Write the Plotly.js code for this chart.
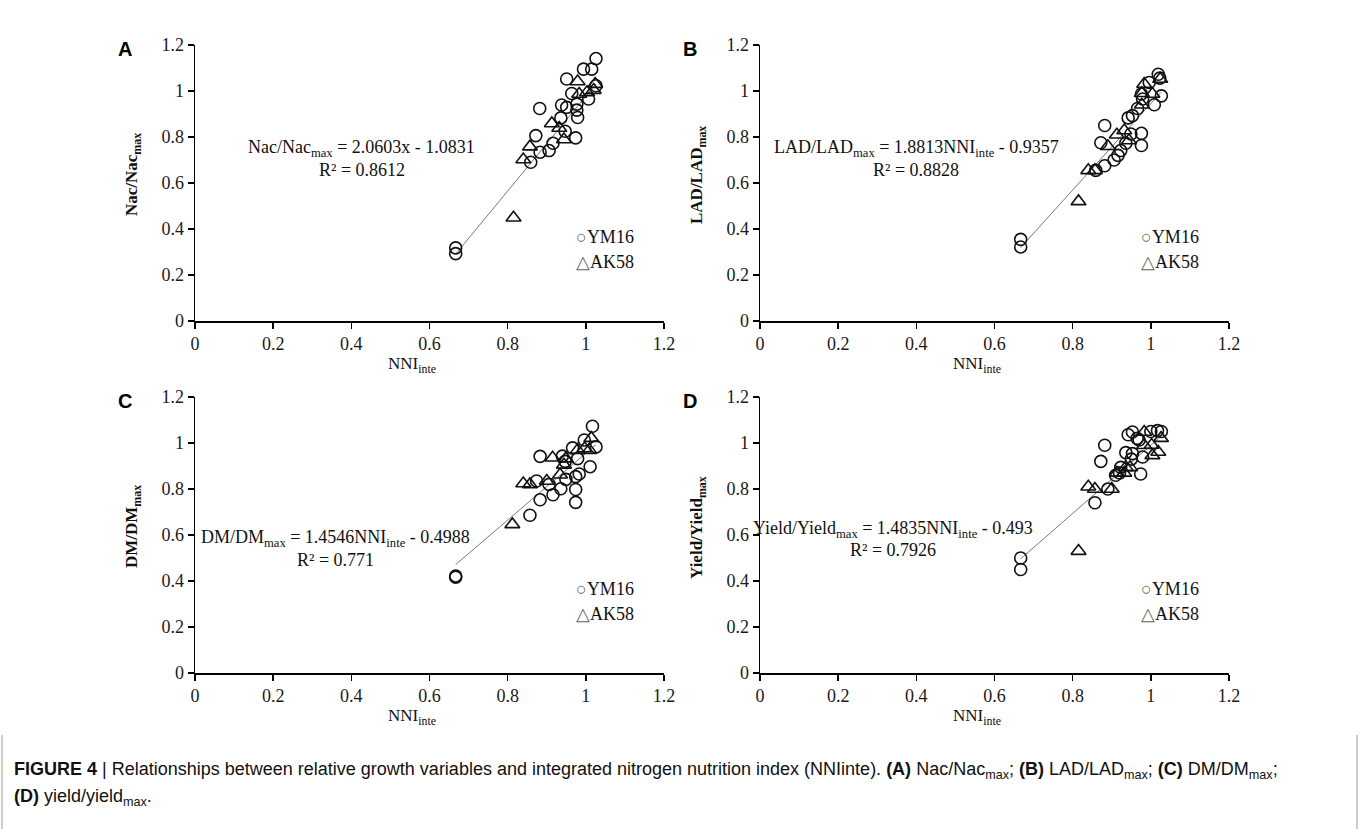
<!DOCTYPE html>
<html>
<head>
<meta charset="utf-8">
<script src="https://cdn.plot.ly/plotly-3.0.1.min.js"></script>
<style>html,body{margin:0;padding:0;background:#fff;}#chart{width:1360px;height:829px;}</style>
</head>
<body>
<div id="chart"></div>
<script>
// ---------- data ----------
const tickVals = [0, 0.2, 0.4, 0.6, 0.8, 1, 1.2];
const tickText = ['0', '0.2', '0.4', '0.6', '0.8', '1', '1.2'];

// Panel A: Nac/Nac_max
const A_ym_x = [0.667,0.667,0.859,0.872,0.882,0.883,0.906,0.916,0.936,0.938,0.947,0.951,0.951,0.964,0.974,0.977,0.977,0.979,0.994,1.007,1.015,1.026,1.026];
const A_ym_y = [0.318,0.293,0.690,0.806,0.924,0.734,0.741,0.773,0.883,0.939,0.825,1.052,0.929,0.989,0.796,0.943,0.917,0.885,1.095,0.965,1.095,1.141,1.023];
const A_ak_x = [0.815,0.840,0.857,0.913,0.932,0.944,0.979,0.983,1.003,1.020,1.024];
const A_ak_y = [0.449,0.702,0.758,0.859,0.839,0.789,1.041,0.987,0.994,1.004,1.030];

// Panel B: LAD/LAD_max
const B_ym_x = [0.667,0.667,0.859,0.872,0.882,0.882,0.906,0.916,0.923,0.936,0.942,0.949,0.953,0.966,0.976,0.976,0.976,0.979,0.996,1.009,1.019,1.023,1.027];
const B_ym_y = [0.355,0.322,0.655,0.775,0.850,0.675,0.700,0.720,0.741,0.773,0.883,0.813,0.893,0.924,0.763,0.816,0.987,0.965,1.037,0.940,1.073,1.056,0.979];
const B_ak_x = [0.815,0.840,0.857,0.890,0.913,0.932,0.944,0.977,0.977,0.983,1.004,1.024];
const B_ak_y = [0.520,0.655,0.655,0.760,0.810,0.828,0.785,0.940,0.990,1.030,0.987,1.052];

// Panel C: DM/DM_max
const C_ym_x = [0.667,0.667,0.857,0.874,0.883,0.883,0.906,0.916,0.936,0.940,0.947,0.949,0.966,0.974,0.974,0.974,0.979,0.983,0.996,1.011,1.017,1.026];
const C_ym_y = [0.422,0.417,0.686,0.835,0.942,0.753,0.820,0.775,0.801,0.943,0.920,0.842,0.979,0.854,0.798,0.742,0.932,0.865,1.013,0.897,1.073,0.983];
const C_ak_x = [0.812,0.840,0.857,0.900,0.915,0.934,0.944,0.949,0.979,0.997,1.009,1.014];
const C_ak_y = [0.646,0.824,0.820,0.835,0.936,0.862,0.905,0.932,0.969,0.976,0.969,1.021];

// Panel D: Yield/Yield_max
const D_ym_x = [0.667,0.667,0.857,0.872,0.882,0.890,0.910,0.920,0.923,0.936,0.942,0.950,0.953,0.953,0.965,0.970,0.974,0.979,1.000,1.017,1.027];
const D_ym_y = [0.500,0.450,0.740,0.920,0.990,0.800,0.860,0.870,0.894,0.958,1.036,0.930,1.048,0.954,1.020,1.013,0.865,0.939,1.050,1.054,1.050];
const D_ak_x = [0.815,0.840,0.857,0.900,0.913,0.932,0.936,0.947,0.983,0.983,1.002,1.004,1.019,1.026];
const D_ak_y = [0.530,0.810,0.800,0.800,0.870,0.870,0.894,0.894,1.048,0.990,0.991,0.946,0.961,1.021];

// regression lines (from the printed equations)
const slopes = [2.0603, 1.8813, 1.4546, 1.4835];
const intercepts = [-1.0831, -0.9357, -0.4988, -0.493];
const fitRange = [0.667, 1.026];

const panelLetters = ['A', 'B', 'C', 'D'];
const yTitles = ['Nac/Nac<sub>max</sub>', 'LAD/LAD<sub>max</sub>', 'DM/DM<sub>max</sub>', 'Yield/Yield<sub>max</sub>'];
const eqTexts = [
  'Nac/Nac<sub>max</sub> = 2.0603x - 1.0831',
  'LAD/LAD<sub>max</sub> = 1.8813NNI<sub>inte</sub> - 0.9357',
  'DM/DM<sub>max</sub> = 1.4546NNI<sub>inte</sub> - 0.4988',
  'Yield/Yield<sub>max</sub> = 1.4835NNI<sub>inte</sub> - 0.493'
];
const r2Texts = ['R² = 0.8612', 'R² = 0.8828', 'R² = 0.771', 'R² = 0.7926'];
const seriesNames = ['YM16', 'AK58'];
const xTitle = 'NNI<sub>inte</sub>';

// ---------- layout helpers ----------
const W = 1360, H = 829;
const px = v => v / W;
const py = v => 1 - v / H;
const SERIF = 'Liberation Serif, Times New Roman, serif';
const SANS = 'Liberation Sans, Arial, sans-serif';

// plot-area pixel boxes [left, right, top, bottom]
const boxes = [
  [195, 664, 45, 321],
  [760, 1229, 45, 321],
  [195, 664, 397, 673],
  [760, 1229, 397, 673]
];

const ymData = [[A_ym_x, A_ym_y], [B_ym_x, B_ym_y], [C_ym_x, C_ym_y], [D_ym_x, D_ym_y]];
const akData = [[A_ak_x, A_ak_y], [B_ak_x, B_ak_y], [C_ak_x, C_ak_y], [D_ak_x, D_ak_y]];

const traces = [];
const layout = {
  width: W, height: H,
  margin: {l: 0, r: 0, t: 0, b: 0},
  paper_bgcolor: '#fff', plot_bgcolor: 'rgba(0,0,0,0)',
  showlegend: false,
  annotations: [],
  shapes: []
};

for (let i = 0; i < 4; i++) {
  const sfx = i === 0 ? '' : String(i + 1);
  const xa = 'x' + sfx, ya = 'y' + sfx;
  const [l, r, t, b] = boxes[i];
  const axCommon = {
    range: [0, 1.2], tickvals: tickVals, ticktext: tickText,
    showgrid: false, zeroline: false, showline: true,
    linecolor: '#000', linewidth: 1.5,
    ticks: 'outside', ticklen: 6, tickwidth: 1.5, tickcolor: '#000',
    tickfont: {family: SERIF, size: 18, color: '#1a1a1a'},
    fixedrange: true
  };
  layout['xaxis' + sfx] = Object.assign({}, axCommon, {domain: [px(l), px(r)], anchor: ya});
  layout['yaxis' + sfx] = Object.assign({}, axCommon, {domain: [py(b), py(t)], anchor: xa});

  // regression line
  traces.push({
    x: fitRange, y: fitRange.map(v => slopes[i] * v + intercepts[i]),
    xaxis: xa, yaxis: ya, mode: 'lines', hoverinfo: 'skip',
    line: {color: '#7a7a7a', width: 1}
  });
  // YM16 circles
  traces.push({
    x: ymData[i][0], y: ymData[i][1], xaxis: xa, yaxis: ya, mode: 'markers', name: seriesNames[0],
    marker: {symbol: 'circle-open', size: 12, color: '#111', line: {width: 1.6, color: '#111'}}
  });
  // AK58 triangles
  traces.push({
    x: akData[i][0], y: akData[i][1], xaxis: xa, yaxis: ya, mode: 'markers', name: seriesNames[1],
    marker: {symbol: 'triangle-up-open', size: 13, color: '#111', line: {width: 1.6, color: '#111'}}
  });

  const midY = (t + b) / 2;
  // panel letter
  layout.annotations.push({
    xref: 'paper', yref: 'paper', x: px(l - 70), y: py(t + 4), xanchor: 'center', yanchor: 'middle',
    text: '<b>' + panelLetters[i] + '</b>', showarrow: false,
    font: {family: SANS, size: 20, color: '#000'}
  });
  // y-axis title
  layout.annotations.push({
    xref: 'paper', yref: 'paper', x: px(l - 62), y: py(midY - 8), xanchor: 'center', yanchor: 'middle',
    text: '<b>' + yTitles[i] + '</b>', textangle: -90, showarrow: false,
    font: {family: SERIF, size: 17, color: '#111'}
  });
  // x-axis title
  layout.annotations.push({
    xref: 'paper', yref: 'paper', x: px(l + 217), y: py(b + 44), xanchor: 'center', yanchor: 'middle',
    text: xTitle, showarrow: false,
    font: {family: SERIF, size: 17, color: '#111'}
  });
  // equation + R²
  const eqX = [0.426, 0.40, 0.36, 0.34][i];
  const eqY = [0.75, 0.75, 0.585, 0.625][i];
  const r2Y = [0.655, 0.655, 0.49, 0.536][i];
  layout.annotations.push({
    xref: xa, yref: ya, x: eqX, y: eqY, xanchor: 'center', yanchor: 'middle',
    text: eqTexts[i], showarrow: false, font: {family: SERIF, size: 18, color: '#111'}
  });
  layout.annotations.push({
    xref: xa, yref: ya, x: eqX, y: r2Y, xanchor: 'center', yanchor: 'middle',
    text: r2Texts[i], showarrow: false, font: {family: SERIF, size: 18, color: '#111'}
  });
  // legend (text glyph symbols)
  layout.annotations.push({
    xref: xa, yref: ya, x: 0.97, y: 0.365, xanchor: 'left', yanchor: 'middle',
    text: '<span style="color:#666">○</span>' + seriesNames[0], showarrow: false,
    font: {family: SERIF, size: 18, color: '#111'}
  });
  layout.annotations.push({
    xref: xa, yref: ya, x: 0.97, y: 0.258, xanchor: 'left', yanchor: 'middle',
    text: '<span style="color:#666">△</span>' + seriesNames[1], showarrow: false,
    font: {family: SERIF, size: 18, color: '#111'}
  });
}

// caption
const CAP = 'Liberation Sans Narrow, Arial Narrow, Liberation Sans, Arial, sans-serif';
layout.annotations.push({
  xref: 'paper', yref: 'paper', x: px(12), y: py(770), xanchor: 'left', yanchor: 'middle',
  text: '<b>FIGURE 4</b> | Relationships between relative growth variables and integrated nitrogen nutrition index (NNIinte). <b>(A)</b> Nac/Nac<sub>max</sub>; <b>(B)</b> LAD/LAD<sub>max</sub>; <b>(C)</b> DM/DM<sub>max</sub>;',
  showarrow: false, align: 'left', font: {family: CAP, size: 18, color: '#111'}
});
layout.annotations.push({
  xref: 'paper', yref: 'paper', x: px(12), y: py(797), xanchor: 'left', yanchor: 'middle',
  text: '<b>(D)</b> yield/yield<sub>max</sub>.',
  showarrow: false, align: 'left', font: {family: CAP, size: 18, color: '#111'}
});
// caption frame
layout.shapes.push({type: 'line', xref: 'paper', yref: 'paper', x0: px(2), x1: px(2), y0: py(735), y1: 0, line: {color: '#9a9a9a', width: 1}});
layout.shapes.push({type: 'line', xref: 'paper', yref: 'paper', x0: px(1357), x1: px(1357), y0: py(735), y1: 0, line: {color: '#9a9a9a', width: 1}});

Plotly.newPlot('chart', traces, layout, {staticPlot: true, displayModeBar: false});
</script>
</body>
</html>
